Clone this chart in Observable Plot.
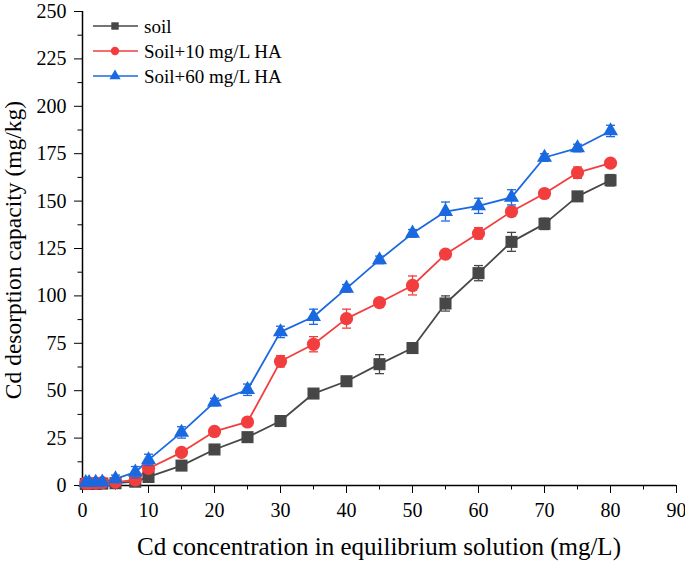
<!DOCTYPE html>
<html><head><meta charset="utf-8">
<script src="https://cdn.jsdelivr.net/npm/d3@7"></script>
<script src="https://cdn.jsdelivr.net/npm/@observablehq/plot@0.6"></script>
<style>
body{margin:0;background:#fff}
#chart{position:relative;width:685px;height:562px}
#chart svg, #chart svg text{font-family:"Liberation Serif","Times New Roman","DejaVu Serif",serif !important}
</style>
</head><body><div id="chart"></div>
<script>
const xValues = [0.5,1,2,3,5,8,10,15,20,25,30,35,40,45,50,55,60,65,70,75,80];
const soil     = [0.8,0.8,0.9,1,1.2,2,4.5,10.5,19,25.5,34,48.5,55,64,72.5,96,112,128.5,138,152.5,161];
const soilErr  = [0.3,0.3,0.3,0.3,0.5,0.5,1,1,1,2,1,1,1,5,1,4,4,5,3,1,3];
const ha10     = [1.2,1.2,1.3,1.5,1.8,3,9,17.5,28.5,33.5,65.5,74.5,88,96.5,105.5,122,133,144.5,154,165,170];
const ha10Err  = [0.3,0.3,0.3,0.3,0.5,1,1,1,1,1,3,4,5,1,5,1,3,1,2,3,2];
const ha60     = [1.5,1.5,1.6,1.8,3.5,7,13.5,28,44,50.5,81,89,104,119,133,144.5,147.5,152,173,178,187];
const ha60Err  = [0.5,0.5,0.5,0.5,2,3,3,3,2,3,3,4,2,2,2,5,4,4,2,2,3];
const seriesNames = ["soil","Soil+10 mg/L HA","Soil+60 mg/L HA"];
const seriesColors = ["#474747","#f23e3e","#1a69e0"];
const seriesSymbols = ["square","circle","triangle"];
const seriesR = [6.8,6.6,5.6];
const xMajorTicks = [0,10,20,30,40,50,60,70,80,90];
const xMinorTicks = [5,15,25,35,45,55,65,75,85];
const yMajorTicks = [0,25,50,75,100,125,150,175,200,225,250];
const yMinorTicks = [12.5,37.5,62.5,87.5,112.5,137.5,162.5,187.5,212.5,237.5];
const xTitle = "Cd concentration in equilibrium solution (mg/L)";
const yTitle = "Cd desorption capacity (mg/kg)";

const allVals = [soil, ha10, ha60];
const allErr = [soilErr, ha10Err, ha60Err];
const rows = [];
seriesNames.forEach((s, i) => xValues.forEach((x, j) => rows.push({series: s, idx: i, x, y: allVals[i][j], e: allErr[i][j]})));

const capSymbol = {draw(ctx, size) { const w = 4.5; ctx.moveTo(-w, 0); ctx.lineTo(w, 0); }};
const font = "\"Liberation Serif\",\"Times New Roman\",\"DejaVu Serif\",serif";

const marks = [
  Plot.axisX({ticks: xMinorTicks, tickSize: 4.5, tickFormat: () => "", label: null}),
  Plot.axisY({ticks: yMinorTicks, tickSize: 4.5, tickFormat: () => "", label: null}),
  Plot.axisX({ticks: xMajorTicks, tickSize: 8, tickPadding: 9, label: null}),
  Plot.axisY({ticks: yMajorTicks, tickSize: 8, tickPadding: 8, label: null}),
  Plot.ruleX([0], {strokeWidth: 1.5}),
  Plot.ruleY([0], {strokeWidth: 1.5}),
];
seriesNames.forEach((s, i) => {
  const d = rows.filter(r => r.idx === i);
  marks.push(Plot.line(d, {x: "x", y: "y", stroke: seriesColors[i], strokeWidth: 1.8}));
});
seriesNames.forEach((s, i) => {
  const d = rows.filter(r => r.idx === i);
  marks.push(Plot.dot(d, {x: "x", y: "y", symbol: seriesSymbols[i], r: seriesR[i], fill: seriesColors[i], stroke: "none"}));
  marks.push(Plot.ruleX(d, {x: "x", y1: r => r.y - r.e, y2: r => r.y + r.e, stroke: seriesColors[i], strokeWidth: 1.3}));
  marks.push(Plot.dot(d, {x: "x", y: r => r.y - r.e, symbol: capSymbol, stroke: seriesColors[i], strokeWidth: 1.3, r: 3}));
  marks.push(Plot.dot(d, {x: "x", y: r => r.y + r.e, symbol: capSymbol, stroke: seriesColors[i], strokeWidth: 1.3, r: 3}));
});

const chart = Plot.plot({
  width: 685, height: 562,
  marginLeft: 82, marginRight: 9, marginTop: 11, marginBottom: 77,
  x: {domain: [0, 90]},
  y: {domain: [0, 250]},
  style: {fontFamily: font, fontSize: "20px", color: "#000", background: "#fff", overflow: "visible"},
  marks
});
document.getElementById("chart").appendChild(chart);

const svg = d3.select(chart);
svg.append("text").attr("x", 379).attr("y", 555).attr("text-anchor", "middle")
  .style("font-family", font).style("font-size", "25px").attr("fill", "#000").text(xTitle);
svg.append("text").attr("transform", "translate(21,250) rotate(-90)").attr("text-anchor", "middle")
  .style("font-family", font).style("font-size", "23.5px").attr("fill", "#000").text(yTitle);

const leg = svg.append("g");
seriesNames.forEach((s, i) => {
  const y = 26 + i * 25;
  leg.append("line").attr("x1", 93).attr("x2", 138).attr("y1", y).attr("y2", y)
    .attr("stroke", seriesColors[i]).attr("stroke-width", 1.6);
  const sym = {square: d3.symbolSquare, circle: d3.symbolCircle, triangle: d3.symbolTriangle}[seriesSymbols[i]];
  leg.append("path").attr("transform", `translate(115,${y})`)
    .attr("d", d3.symbol(sym, Math.PI * 4.2 * 4.2)()).attr("fill", seriesColors[i]);
  leg.append("text").attr("x", 144).attr("y", y + 7).attr("text-anchor", "start")
    .style("font-family", font).style("font-size", "19px")
    .attr("fill", "#000").text(s);
});
</script></body></html>
